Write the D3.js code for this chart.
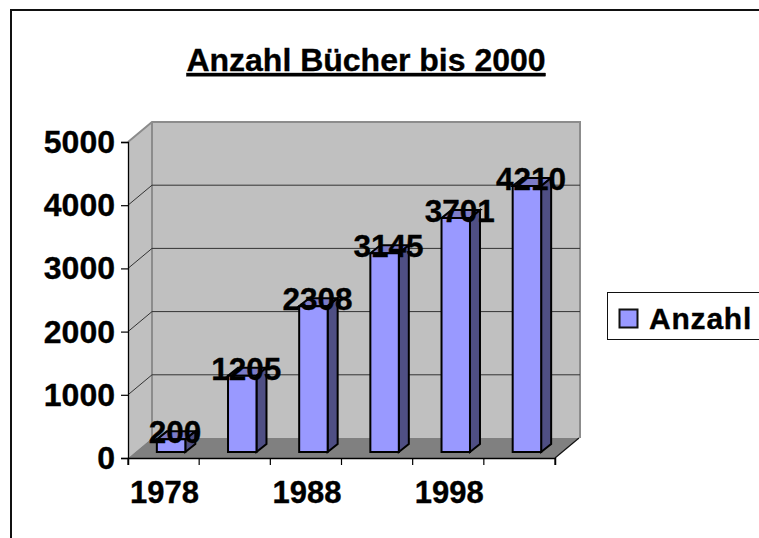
<!DOCTYPE html>
<html><head><meta charset="utf-8">
<script src="https://cdn.jsdelivr.net/npm/d3@7"></script>
<style>html,body{margin:0;padding:0;background:#fff;overflow:hidden}svg{display:block}text{font-family:"Liberation Sans",Arial,sans-serif;font-weight:bold;fill:#000;stroke:#000;stroke-width:.35px}</style>
</head><body><svg id="c" width="759" height="538"></svg>
<script>
const years=["1978","1983","1988","1993","1998","2000"];
const counts=[200,1205,2308,3145,3701,4210];
const yTicks=[0,1000,2000,3000,4000,5000];
const shownYears=["1978","1988","1998"];
const chartTitle="Anzahl Bücher bis 2000";
const seriesName="Anzahl";

const svg=d3.select("#c");
const W=128,E=555,B=458,T=142,dx=24,dy=-20;
const x=d3.scaleBand().domain(years).range([W,E]);
const y=d3.scaleLinear().domain([0,5000]).range([B,T]);
const poly=(pts,f,s,w)=>svg.append("polygon").attr("points",pts.map(p=>p.join(",")).join(" ")).attr("fill",f).attr("stroke",s||"none").attr("stroke-width",w||0).attr("stroke-linejoin","miter");

svg.append("rect").attr("x",11).attr("y",10).attr("width",780).attr("height",560).attr("fill","#fff").attr("stroke","#111").attr("stroke-width",2);

// walls and floor
poly([[W,T],[W+dx,T+dy],[W+dx,B+dy],[W,B]],"#c0c0c0");
poly([[W+dx,T+dy],[E+dx+1,T+dy],[E+dx+1,B+dy],[W+dx,B+dy]],"#c0c0c0");
poly([[W,B],[W+dx,B+dy],[E+dx,B+dy],[E,B]],"#808080");
svg.append("path").attr("fill","none").attr("stroke","#8c8c8c").attr("stroke-width",2)
 .attr("d",`M${W},${T}L${W+dx},${T+dy}H${E+dx+1}V${B+dy}M${W+dx},${T+dy}V${B+dy}`);

// gridlines
yTicks.filter(v=>v>0&&v<5000).forEach(v=>{
  svg.append("path").attr("fill","none").attr("stroke","#333").attr("stroke-width",1)
   .attr("d",`M${W},${y(v)}L${W+dx},${y(v)+dy}H${E+dx+1}`);
});
svg.append("path").attr("fill","none").attr("stroke","#111").attr("stroke-width",1.2)
 .attr("d",`M${E},${B}L${E+dx},${B+dy}`);

// bars
const barW=x.bandwidth()*0.4, zx=10, zy=-8;
counts.forEach((v,i)=>{
  const l=x(years[i])+x.bandwidth()/2-barW/2+7.5, r=l+barW, base=B-6, top=y(v)-6;
  poly([[l,top],[l+zx,top+zy],[r+zx,top+zy],[r,top]],"#7c7cc8","#000",2);
  poly([[r,top],[r+zx,top+zy],[r+zx,base+zy],[r,base]],"#4f4f84","#000",2);
  poly([[l,top],[r,top],[r,base],[l,base]],"#9999ff","#000",2);
});

// axes
const ay=svg.append("g").attr("transform",`translate(${W},0)`).call(d3.axisLeft(y).tickValues(yTicks).tickSize(7).tickPadding(6).tickFormat(d3.format("d")));
ay.selectAll("text").attr("font-size",32).attr("dy","0.33em").style("font-family",'"Liberation Sans"').style("font-weight","bold");
ay.select(".domain").attr("stroke","#000").attr("stroke-width",1.3);
ay.selectAll("line").attr("stroke","#000").attr("stroke-width",1.2);

const ax=svg.append("g").attr("transform",`translate(0,${B})`).call(d3.axisBottom(x).tickSize(7).tickFormat(d=>shownYears.includes(d)?d:""));
ax.select(".domain").attr("stroke","#000").attr("stroke-width",1.5);
ax.selectAll(".tick line").attr("stroke","#000").attr("stroke-width",1.2).attr("x1",-x.bandwidth()/2).attr("x2",-x.bandwidth()/2);
ax.selectAll(".tick text").attr("y",45).attr("dy",".0em").attr("x",1).attr("font-size",31).style("font-family",'"Liberation Sans"').style("font-weight","bold");
ax.append("line").attr("x1",E).attr("x2",E).attr("y1",0).attr("y2",7).attr("stroke","#000").attr("stroke-width",1.2);

// data labels
counts.forEach((v,i)=>{
  svg.append("text").attr("x",x(years[i])+x.bandwidth()/2+11.5).attr("y",y(v)-2).attr("text-anchor","middle").attr("font-size",31.5).text(v);
});

// title
svg.append("text").attr("x",366).attr("y",71).attr("text-anchor","middle").attr("font-size",32).attr("text-decoration","underline").text(chartTitle);

// legend
svg.append("rect").attr("x",607.5).attr("y",292.5).attr("width",170).attr("height",47).attr("fill","#fff").attr("stroke","#111").attr("stroke-width",1);
svg.append("rect").attr("x",619.5).attr("y",309.5).attr("width",18).attr("height",18).attr("fill","#9999ff").attr("stroke","#111").attr("stroke-width",2);
svg.append("text").attr("x",649).attr("y",329).attr("font-size",30).attr("letter-spacing",0.8).text(seriesName);
</script></body></html>
